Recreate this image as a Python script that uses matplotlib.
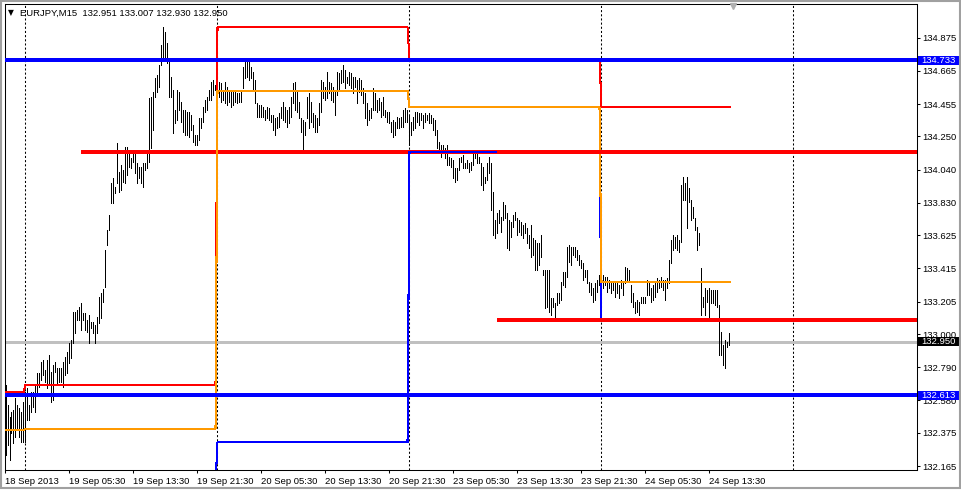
import numpy as np
import pandas as pd
import matplotlib
matplotlib.use("Agg")
import matplotlib.pyplot as plt
import matplotlib.transforms as mtransforms
from matplotlib.patches import Rectangle

plt.rcParams['font.family'] = ['Liberation Sans', 'DejaVu Sans']

symbol = "EURJPY,M15"
last_ohlc = [132.951, 133.007, 132.930, 132.950]
first_bar = "2013-09-18 21:30"

# M15 bars, high / low
highs = [
    132.677, 132.550, 132.475, 132.506, 132.519, 132.595, 132.550, 132.531, 132.506, 132.569,
    132.633, 132.658, 132.550, 132.633, 132.633, 132.677, 132.753, 132.753, 132.823, 132.836,
    132.772, 132.836, 132.867, 132.759, 132.804, 132.823, 132.785, 132.785, 132.785, 132.823,
    132.855, 132.886, 132.943, 132.962, 133.139, 133.139, 133.152, 133.171, 133.196, 133.133,
    133.133, 133.089, 133.120, 133.076, 133.076, 133.057, 133.108, 133.235, 133.260, 133.285,
    133.532, 133.658, 133.753, 133.956, 133.987, 133.931, 134.209, 134.025, 134.069, 134.038,
    134.184, 134.184, 134.145, 134.113, 134.145, 134.145, 134.082, 134.057, 134.057, 134.082,
    134.082, 134.164, 134.493, 134.500, 134.531, 134.620, 134.639, 134.702, 134.828, 134.943,
    134.911, 134.841, 134.734, 134.627, 134.544, 134.418, 134.544, 134.531, 134.468, 134.418,
    134.418, 134.405, 134.405, 134.386, 134.322, 134.259, 134.259, 134.367, 134.367, 134.437,
    134.481, 134.500, 134.544, 134.594, 134.607, 134.575, 134.620, 134.594, 134.588, 134.531,
    134.594, 134.563, 134.544, 134.544, 134.544, 134.531, 134.525, 134.525, 134.544, 134.690,
    134.721, 134.734, 134.734, 134.690, 134.658, 134.607, 134.462, 134.449, 134.449, 134.437,
    134.418, 134.437, 134.430, 134.386, 134.386, 134.367, 134.374, 134.399, 134.437, 134.468,
    134.437, 134.418, 134.437, 134.500, 134.588, 134.594, 134.531, 134.468, 134.367, 134.354,
    134.341, 134.500, 134.525, 134.468, 134.399, 134.386, 134.367, 134.462, 134.607, 134.594,
    134.563, 134.658, 134.594, 134.588, 134.563, 134.544, 134.658, 134.652, 134.671, 134.702,
    134.671, 134.627, 134.658, 134.652, 134.627, 134.627, 134.607, 134.620, 134.607, 134.556,
    134.525, 134.462, 134.418, 134.430, 134.556, 134.525, 134.481, 134.493, 134.468, 134.500,
    134.418, 134.405, 134.405, 134.341, 134.354, 134.341, 134.374, 134.367, 134.374, 134.418,
    134.430, 134.418, 134.386, 134.341, 134.374, 134.405, 134.405, 134.399, 134.399, 134.386,
    134.399, 134.386, 134.399, 134.386, 134.367, 134.354, 134.291, 134.215, 134.196, 134.196,
    134.177, 134.196, 134.120, 134.113, 134.101, 134.050, 134.050, 134.113, 134.120, 134.133,
    134.082, 134.101, 134.082, 134.088, 134.145, 134.145, 134.145, 134.120, 134.082, 134.057,
    133.994, 134.082, 134.120, 134.082, 133.898, 133.722, 133.766, 133.785, 133.741, 133.835,
    133.816, 133.766, 133.722, 133.709, 133.753, 133.772, 133.734, 133.722, 133.709, 133.690,
    133.703, 133.671, 133.627, 133.690, 133.608, 133.595, 133.576, 133.576, 133.627, 133.405,
    133.405, 133.405, 133.405, 133.228, 133.228, 133.196, 133.260, 133.260, 133.329, 133.392,
    133.392, 133.551, 133.563, 133.551, 133.551, 133.551, 133.532, 133.500, 133.468, 133.449,
    133.405, 133.405, 133.329, 133.323, 133.291, 133.323, 133.342, 133.373, 133.361, 133.373,
    133.361, 133.361, 133.342, 133.329, 133.329, 133.323, 133.329, 133.310, 133.342, 133.323,
    133.424, 133.418, 133.405, 133.310, 133.260, 133.202, 133.215, 133.202, 133.234, 133.234,
    133.234, 133.342, 133.323, 133.291, 133.310, 133.323, 133.354, 133.342, 133.361, 133.342,
    133.342, 133.354, 133.468, 133.595, 133.627, 133.614, 133.627, 133.595, 133.943, 133.994,
    133.956, 133.994, 133.924, 133.848, 133.804, 133.734, 133.677, 133.639, 133.418, 133.234,
    133.291, 133.279, 133.291, 133.279, 133.279, 133.279, 133.279, 133.184, 133.012, 132.930,
    132.962, 132.949, 133.007,
]
lows = [
    132.234, 132.297, 132.203, 132.374, 132.310, 132.349, 132.393, 132.349, 132.316, 132.316,
    132.316, 132.456, 132.456, 132.506, 132.538, 132.506, 132.614, 132.665, 132.709, 132.740,
    132.696, 132.658, 132.677, 132.569, 132.582, 132.759, 132.690, 132.696, 132.696, 132.665,
    132.740, 132.753, 132.817, 132.848, 132.943, 133.006, 133.089, 133.089, 133.025, 133.089,
    133.025, 133.012, 132.943, 133.038, 133.006, 132.943, 133.006, 133.070, 133.101, 133.202,
    133.298, 133.563, 133.658, 133.829, 133.829, 133.892, 133.956, 133.898, 133.911, 133.962,
    133.956, 134.006, 134.057, 134.050, 134.088, 134.019, 133.956, 133.987, 133.956, 133.931,
    134.038, 134.050, 134.088, 134.177, 134.291, 134.500, 134.531, 134.563, 134.702, 134.734,
    134.746, 134.715, 134.500, 134.500, 134.272, 134.335, 134.354, 134.418, 134.341, 134.278,
    134.259, 134.259, 134.247, 134.291, 134.215, 134.196, 134.196, 134.228, 134.303, 134.341,
    134.405, 134.418, 134.481, 134.481, 134.512, 134.544, 134.481, 134.500, 134.468, 134.481,
    134.462, 134.449, 134.468, 134.437, 134.449, 134.468, 134.462, 134.468, 134.468, 134.556,
    134.620, 134.627, 134.607, 134.620, 134.544, 134.462, 134.374, 134.374, 134.374, 134.374,
    134.354, 134.367, 134.354, 134.341, 134.291, 134.259, 134.303, 134.310, 134.367, 134.354,
    134.341, 134.310, 134.335, 134.374, 134.462, 134.418, 134.405, 134.367, 134.278, 134.151,
    134.259, 134.367, 134.303, 134.341, 134.310, 134.278, 134.278, 134.322, 134.405, 134.493,
    134.481, 134.493, 134.525, 134.481, 134.468, 134.386, 134.512, 134.544, 134.588, 134.594,
    134.556, 134.588, 134.575, 134.556, 134.525, 134.563, 134.462, 134.531, 134.512, 134.462,
    134.367, 134.322, 134.354, 134.367, 134.418, 134.418, 134.405, 134.418, 134.374, 134.386,
    134.374, 134.341, 134.335, 134.278, 134.247, 134.259, 134.303, 134.303, 134.310, 134.310,
    134.341, 134.341, 134.196, 134.259, 134.291, 134.303, 134.341, 134.322, 134.354, 134.303,
    134.341, 134.354, 134.335, 134.335, 134.291, 134.259, 134.177, 134.164, 134.120, 134.145,
    134.113, 134.069, 134.069, 134.057, 133.987, 133.962, 133.975, 134.038, 134.088, 134.050,
    134.050, 134.050, 134.025, 134.038, 134.069, 134.113, 134.082, 134.082, 133.943, 133.911,
    133.956, 133.975, 134.019, 133.785, 133.627, 133.608, 133.639, 133.703, 133.646, 133.722,
    133.734, 133.545, 133.532, 133.614, 133.677, 133.722, 133.627, 133.646, 133.627, 133.608,
    133.639, 133.576, 133.545, 133.487, 133.500, 133.405, 133.405, 133.437, 133.487, 133.373,
    133.165, 133.171, 133.139, 133.120, 133.171, 133.089, 133.184, 133.196, 133.215, 133.310,
    133.298, 133.361, 133.456, 133.437, 133.500, 133.487, 133.468, 133.437, 133.418, 133.342,
    133.361, 133.323, 133.266, 133.247, 133.202, 133.215, 133.266, 133.310, 133.298, 133.291,
    133.310, 133.266, 133.291, 133.260, 133.279, 133.234, 133.260, 133.228, 133.291, 133.247,
    133.323, 133.329, 133.342, 133.202, 133.171, 133.133, 133.139, 133.120, 133.196, 133.196,
    133.196, 133.247, 133.247, 133.202, 133.215, 133.234, 133.266, 133.291, 133.298, 133.279,
    133.215, 133.291, 133.323, 133.449, 133.532, 133.545, 133.532, 133.519, 133.582, 133.848,
    133.848, 133.671, 133.835, 133.722, 133.734, 133.658, 133.532, 133.563, 133.120, 133.171,
    133.120, 133.202, 133.108, 133.196, 133.196, 133.184, 133.171, 132.867, 132.867, 132.804,
    132.785, 132.918, 132.930,
]

# previous day high / low / close indicator, one value per trading day
level_days = ["2013-09-18", "2013-09-19", "2013-09-20", "2013-09-23", "2013-09-24"]
prev_high = [132.633, 132.677, 134.941, 134.734, 134.438]
prev_low = [132.050, 132.050, 132.315, 134.154, 133.089]
prev_close = [132.393, 132.400, 134.540, 134.435, 133.327]

# horizontal lines drawn on the chart
blue_levels = [134.733, 132.613]
red_levels = [134.149, 134.149, 133.089]
red_from = ["2013-09-19 07:00", "2013-09-23 11:00", "2013-09-23 11:00"]
red_to = ["2013-09-23 11:00", None, None]
bid = 132.950

y_ticks = [134.875, 134.665, 134.455, 134.250, 134.040, 133.830, 133.625,
           133.415, 133.205, 133.000, 132.790, 132.580, 132.375, 132.165]

n = len(highs)
visible_bars = 456

times = pd.date_range(first_bar, periods=visible_bars * 2, freq="15min")
times = times[times.dayofweek < 5][:visible_bars]
bar_of = {t: i for i, t in enumerate(times)}
days = times.normalize()
day_starts = [i for i in range(1, visible_bars) if days[i] != days[i - 1]]

x = np.arange(n)
day_idx = [level_days.index(d.strftime("%Y-%m-%d")) for d in days[:n]]
ind_high = [prev_high[k] for k in day_idx]
ind_low = [prev_low[k] for k in day_idx]
ind_close = [prev_close[k] for k in day_idx]

W, H = 962, 490
fig = plt.figure(figsize=(W / 100, H / 100), dpi=100)
ax = fig.add_axes([5 / W, 20 / H, 912 / W, 466 / H])
ax.set_xlim(-0.25, visible_bars - 0.25)
ax.set_ylim(132.140, 135.088)

# period separators and bid line
for d in day_starts:
    ax.axvline(d - 0.25, color="black", lw=0.75, linestyle=(0, (2, 2)), zorder=1)
ax.axhline(bid, color="#c0c0c0", lw=0.75, zorder=1.5, antialiased=False)

# bars
ax.vlines(x, lows, highs, colors="black", linewidth=0.72, zorder=2, antialiased=False)

# first red line sits under the indicator, the rest over it
for lv, a, b in zip(red_levels, red_from, red_to):
    x0 = bar_of[pd.Timestamp(a)] - 0.25
    x1 = bar_of[pd.Timestamp(b)] - 0.25 if b else visible_bars
    z = 3 if b else 5
    ax.hlines(lv, x0, x1, color="red", lw=1.6, zorder=z, antialiased=False)

ax.plot(x, ind_high, color="red", lw=0.75, zorder=4, antialiased=False)
ax.plot(x, ind_low, color="blue", lw=0.75, zorder=4, antialiased=False)
ax.plot(x, ind_close, color="#ff9900", lw=0.75, zorder=4, antialiased=False)

for lv in blue_levels:
    ax.axhline(lv, color="blue", lw=1.5, zorder=5, antialiased=False)

# axes styling
for s in ax.spines.values():
    s.set_linewidth(0.75)
ax.yaxis.tick_right()
ax.set_yticks(y_ticks)
ax.set_yticklabels(["%.3f" % v for v in y_ticks])
ax.tick_params(axis="y", direction="out", length=2.2, width=0.75, pad=1.5, labelsize=6.8)

tick_bars = list(range(0, n, 32))
tick_labels = []
for i in tick_bars:
    t = times[i]
    tick_labels.append(t.strftime("%d %b %Y") if i == 0 else t.strftime("%d %b %H:%M"))
ax.set_xticks(np.array(tick_bars) - 0.25)
ax.set_xticklabels(tick_labels, ha="left")
ax.tick_params(axis="x", direction="out", length=2.5, width=0.75, pad=2.5, labelsize=6.8)

# price tags on the right scale, drawn over the scale labels
tr = mtransforms.blended_transform_factory(ax.transAxes, ax.transData)
half = 4.5 * (135.088 - 132.140) / 466
for lv, fc in [(blue_levels[0], "blue"), (blue_levels[1], "blue"), (bid, "black")]:
    ax.add_patch(Rectangle((913.5 / 912, lv - half), 42 / 912, 2 * half, transform=tr,
                           facecolor=fc, edgecolor="none", clip_on=False, zorder=6))
    ax.text(916.5 / 912, lv, "%.3f" % lv, transform=tr, color="white", fontsize=6.8,
            va="center", ha="left", zorder=7, clip_on=False)

# header and shift marker
ax.text(3 / 912, 1 - 9 / 466, "\u25bc", transform=ax.transAxes, fontsize=5.5,
        va="center", ha="left", family=["DejaVu Sans"])
ax.text(15.5 / 912, 1 - 9 / 466, symbol + "  " + " ".join("%.3f" % v for v in last_ohlc),
        transform=ax.transAxes, fontsize=6.8, va="center", ha="left")
ax.plot([728 / 912], [1 - 2.5 / 466], marker="v", ms=4.5, color="#b0b0b0",
        transform=ax.transAxes, clip_on=False, zorder=6)

fig.add_artist(Rectangle((0.5 / W, 2 / H), (W - 2) / W, (H - 3) / H, transform=fig.transFigure,
                         fill=False, edgecolor="#a0a0a0", lw=1.5))

fig.savefig("out.png", dpi=100, facecolor="white")
